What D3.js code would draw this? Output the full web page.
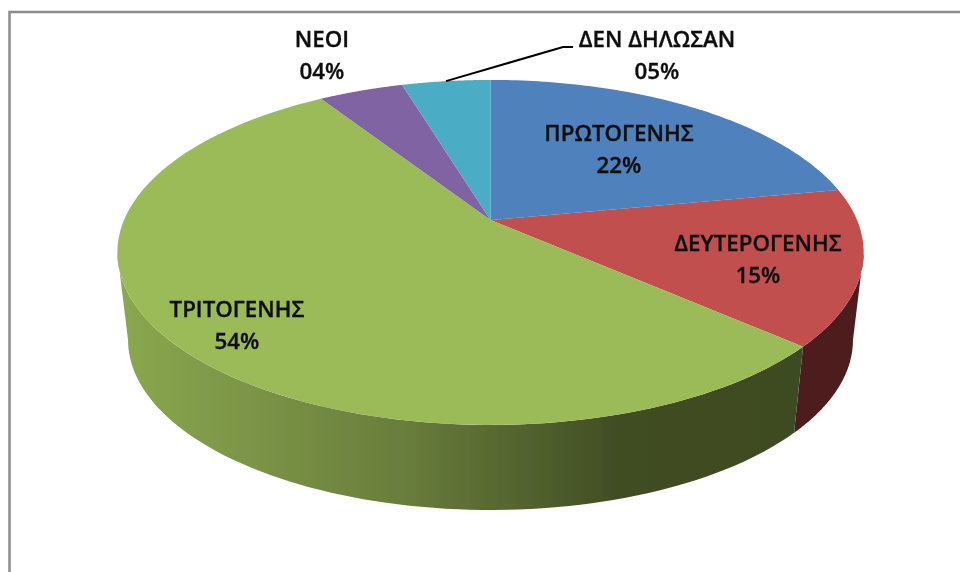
<!DOCTYPE html>
<html>
<head>
<meta charset="utf-8">
<script src="https://d3js.org/d3.v7.min.js"></script>
<style>
  html, body { margin: 0; background: #fff; }
  svg { display: block; }
  text { font-family: "Open Sans", "Noto Sans", sans-serif; font-weight: 600; font-size: 22.3px; fill: #111; stroke: #111; stroke-width: 0.35px; }
</style>
</head>
<body>
<div id="chart"></div>
<script>
// values, labels are rounded from them
const categories = ['ΠΡΩΤΟΓΕΝΗΣ', 'ΔΕΥΤΕΡΟΓΕΝΗΣ', 'ΤΡΙΤΟΓΕΝΗΣ', 'ΝΕΟΙ', 'ΔΕΝ ΔΗΛΩΣΑΝ']
const values = [22, 14.6, 54.4, 4.4, 4.6]
const topColors = ['#4f81bd', '#c0504d', '#9bbb59', '#8064a2', '#4bacc6']

const width = 960, height = 572

const svg = d3.select('#chart').append('svg')
  .attr('width', width)
  .attr('height', height)

// the reference is a slightly soft screenshot
const defs = svg.append('defs')
defs.append('filter')
  .attr('id', 'soft')
  .append('feGaussianBlur')
  .attr('stdDeviation', 0.5)

// frame of the original screenshot, no right or bottom edge
svg.append('path')
  .attr('d', 'M9.5,572V12H960')
  .attr('fill', 'none')
  .attr('stroke', '#8c8c8c')
  .attr('stroke-width', 2.5)

// the pie is tilted with a bit of perspective, so the hub is not the ellipse centre
const persp = -0.188
function project(angle, rim) {
  const u = Math.sin(angle), v = -Math.cos(angle)
  const w = 1 + persp * v
  return [rim.cx + rim.rx * u / w, rim.cy + rim.ry * v / w]
}
const topRim = {cx: 490.5, cy: 220, rx: 366.5, ry: 166.4}
const bottomRim = {cx: 490.5, cy: 308, rx: 356, ry: 164}

const pie = d3.pie().sort(null).value(d => d)
const arcs = pie(values)
const line = d3.line()

// only the part of the wall between the two widest rim points faces the viewer
const wallStart = Math.acos(persp)
const wallEnd = 2 * Math.PI - wallStart

function arcPoints(start, end, rim) {
  return d3.range(0, 1.0001, 1 / 80).map(t => project(start + t * (end - start), rim))
}

function sidePath(d) {
  const start = Math.max(d.startAngle, wallStart)
  const end = Math.min(d.endAngle, wallEnd)
  if (end <= start) return null
  return line(arcPoints(start, end, topRim).concat(arcPoints(start, end, bottomRim).reverse())) + 'Z'
}

// side shading runs dark to the right
const greenSide = defs.append('linearGradient')
  .attr('id', 'green-side')
  .attr('gradientUnits', 'userSpaceOnUse')
  .attr('x1', 117).attr('x2', 800)
  .attr('y1', 0).attr('y2', 0)
greenSide.selectAll('stop')
  .data([[0, '#8aa84f'], [0.414, '#6a7e3c'], [0.575, '#55662f'], [0.736, '#404d24'], [1, '#3e4b22']])
  .join('stop')
  .attr('offset', d => d[0])
  .attr('stop-color', d => d[1])

const sideColors = ['#2f4d71', '#4e1f1c', 'url(#green-side)', '#4c3b61', '#2d6776']

const pieGroup = svg.append('g').attr('filter', 'url(#soft)')

pieGroup.selectAll('path.side')
  .data(arcs)
  .join('path')
  .attr('class', 'side')
  .attr('fill', (d, i) => sideColors[i])
  .attr('d', sidePath)

pieGroup.selectAll('path.top')
  .data(arcs)
  .join('path')
  .attr('class', 'top')
  .attr('fill', (d, i) => topColors[i])
  .attr('d', d => line([[topRim.cx, topRim.cy]].concat(arcPoints(d.startAngle, d.endAngle, topRim))) + 'Z')

// leader line for the small teal slice
const teal = arcs[4]
const leaderStart = project((teal.startAngle + teal.endAngle) / 2, topRim)
svg.append('path')
  .attr('d', line([leaderStart, [563, 47], [573, 47]]))
  .attr('fill', 'none')
  .attr('stroke', '#000')
  .attr('stroke-width', 2)
  .attr('filter', 'url(#soft)')

// label anchors (centre x, first baseline)
const labelPos = [[619, 141], [758, 251], [237, 317], [322, 47], [657, 47]]

const labels = svg.selectAll('text.label')
  .data(categories)
  .join('text')
  .attr('class', 'label')
  .attr('text-anchor', 'middle')
  .attr('filter', 'url(#soft)')

labels.append('tspan')
  .attr('x', (d, i) => labelPos[i][0])
  .attr('y', (d, i) => labelPos[i][1])
  .text(d => d)

labels.append('tspan')
  .attr('x', (d, i) => labelPos[i][0])
  .attr('y', (d, i) => labelPos[i][1] + 31.5)
  .text((d, i) => d3.format('02d')(Math.round(values[i])) + '%')
</script>
</body>
</html>
